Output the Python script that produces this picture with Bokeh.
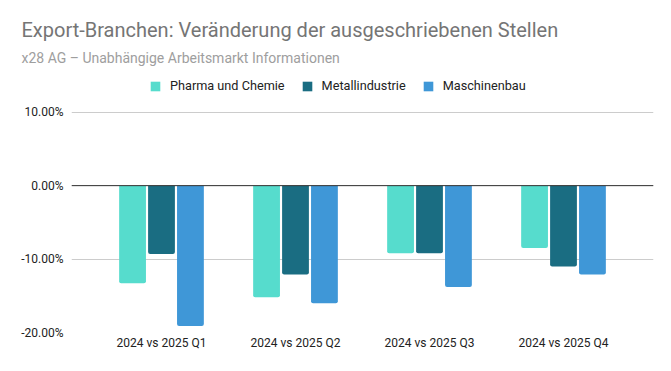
from bokeh.plotting import figure
from bokeh.models import (ColumnDataSource, FactorRange, Range1d, NumeralTickFormatter,
                          FixedTicker, Span, Legend, LegendItem, Title)
from bokeh.transform import dodge
from bokeh.embed import file_html
from bokeh.resources import INLINE

quarters = ["2024 vs 2025 Q1", "2024 vs 2025 Q2", "2024 vs 2025 Q3", "2024 vs 2025 Q4"]
series = ["Pharma und Chemie", "Metallindustrie", "Maschinenbau"]
pharma = [-0.133, -0.152, -0.092, -0.085]
metall = [-0.093, -0.121, -0.092, -0.110]
maschinen = [-0.191, -0.160, -0.138, -0.121]
y_ticks = [-0.2, -0.1, 0.0, 0.1]
colors = ["#56dccd", "#1a6d82", "#3f97d7"]

src = ColumnDataSource(dict(q=quarters, pharma=pharma, metall=metall, maschinen=maschinen,
                            zero=[0.0] * len(quarters)))

p = figure(width=665, height=365, output_backend="svg", toolbar_location=None,
           x_range=FactorRange(*quarters, range_padding=0.1716, range_padding_units="absolute"),
           y_range=Range1d(-0.2, 0.15),
           min_border_left=71, min_border_right=12, min_border_bottom=33, min_border_top=75)
p.outline_line_color = None
p.background_fill_color = "white"
p.border_fill_color = "white"

renderers = []
for key, off, col in zip(["pharma", "metall", "maschinen"], [-0.216, 0.0, 0.216], colors):
    r = p.vbar(x=dodge("q", off, range=p.x_range), top="zero", bottom=key, width=0.2,
               source=src, fill_color=col, line_color=None, border_radius=(0, 0, 2, 2))
    renderers.append(r)

p.add_layout(Span(location=0, dimension="width", line_color="#333333", line_width=1))

p.xgrid.grid_line_color = None
p.ygrid.grid_line_color = "#cccccc"
p.ygrid.ticker = FixedTicker(ticks=y_ticks)

p.yaxis.ticker = FixedTicker(ticks=y_ticks)
p.yaxis.formatter = NumeralTickFormatter(format="0.00%")
for ax in (p.xaxis, p.yaxis):
    ax.axis_line_color = None
    ax.major_tick_line_color = None
    ax.minor_tick_line_color = None
    ax.major_label_text_font = "Roboto"
    ax.major_label_text_font_size = "12px"
    ax.major_label_text_color = "#222222"
p.yaxis.major_label_standoff = 2
p.xaxis.major_label_standoff = -3

legend = Legend(items=[LegendItem(label=s, renderers=[r]) for s, r in zip(series, renderers)],
                orientation="horizontal", location=(78, 239),
                label_text_font="Roboto", label_text_font_size="12.7px", label_text_color="#222222",
                glyph_width=12, glyph_height=12, label_standoff=9, spacing=16,
                border_line_color=None, background_fill_alpha=0, padding=2, margin=0)
p.add_layout(legend)

p.add_layout(Title(text="x28 AG \u2013 Unabh\u00e4ngige Arbeitsmarkt Informationen",
                   text_font="Roboto", text_font_size="14px", text_font_style="normal",
                   text_color="#9e9e9e", align="left", offset=-50, standoff=20), "above")
p.add_layout(Title(text="Export-Branchen: Ver\u00e4nderung der ausgeschriebenen Stellen",
                   text_font="Roboto", text_font_size="20px", text_font_style="normal",
                   text_color="#757575", align="left", offset=-50, standoff=-9), "above")

open("out.html", "w").write(file_html(p, INLINE))
